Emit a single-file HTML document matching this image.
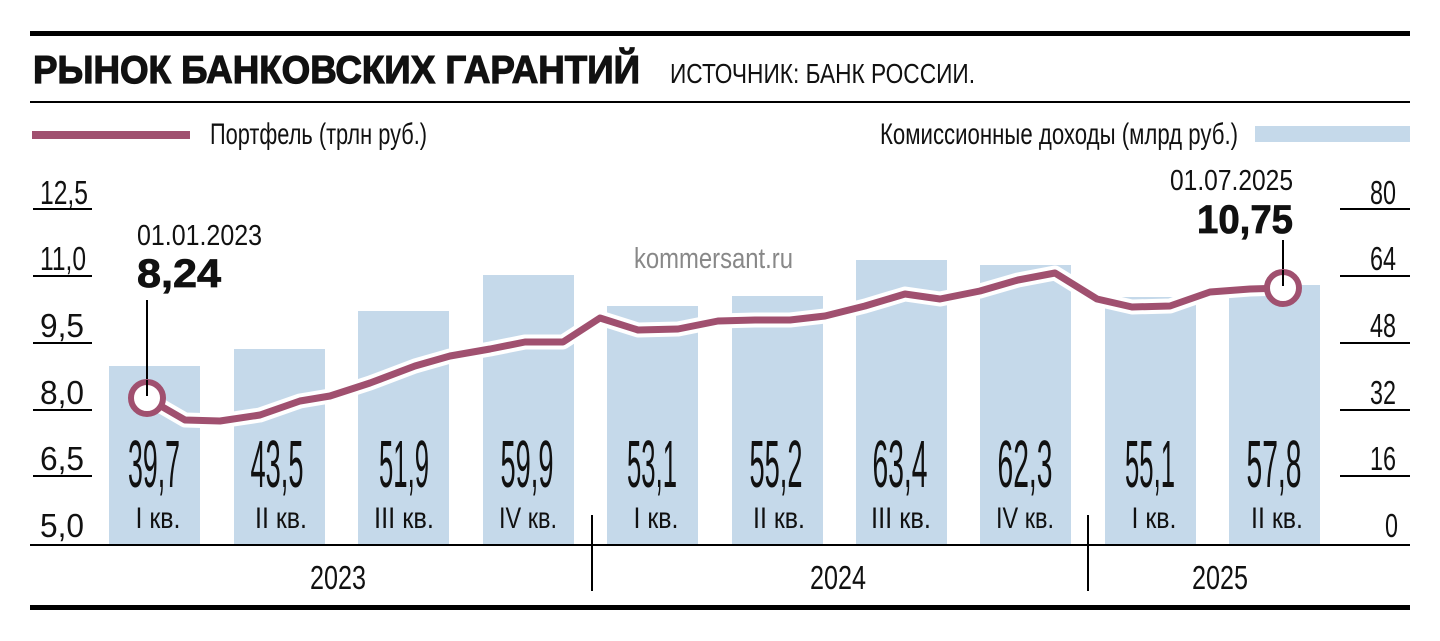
<!DOCTYPE html>
<html><head><meta charset="utf-8"><style>
html,body{margin:0;padding:0;background:#fff;}
svg{display:block}
text{font-family:"Liberation Sans Narrow","Liberation Sans",sans-serif;fill:#111}
</style></head><body>
<svg width="1440" height="641" viewBox="0 0 1440 641" xmlns="http://www.w3.org/2000/svg">
<rect x="30" y="31" width="1380" height="5" fill="#000"/>
<text x="33" y="83" font-size="39" font-weight="bold" textLength="607" lengthAdjust="spacingAndGlyphs" style="font-family:'Liberation Sans',sans-serif;stroke:#111;stroke-width:1.2">РЫНОК БАНКОВСКИХ ГАРАНТИЙ</text>
<text x="670" y="83" font-size="28" textLength="305" lengthAdjust="spacingAndGlyphs">ИСТОЧНИК: БАНК РОССИИ.</text>
<rect x="30" y="101" width="1380" height="2" fill="#000"/>
<rect x="32" y="131" width="158" height="8" fill="#a0506f"/>
<text x="210" y="144" font-size="30" textLength="217" lengthAdjust="spacingAndGlyphs">Портфель (трлн руб.)</text>
<text x="880" y="144" font-size="30" textLength="358" lengthAdjust="spacingAndGlyphs">Комиссионные доходы (млрд руб.)</text>
<rect x="1255" y="126" width="155" height="16" fill="#c5d9ea"/>

<g fill="#c5d9ea">
<rect x="109" y="366" width="91" height="179"/>
<rect x="234" y="349" width="91" height="196"/>
<rect x="358" y="311" width="91" height="234"/>
<rect x="483" y="275" width="91" height="270"/>
<rect x="607" y="306" width="91" height="239"/>
<rect x="732" y="296" width="91" height="249"/>
<rect x="856" y="260" width="91" height="285"/>
<rect x="980" y="265" width="91" height="280"/>
<rect x="1105" y="297" width="91" height="248"/>
<rect x="1229" y="285" width="91" height="260"/>
</g>

<g font-size="33">
<text x="40" y="204" textLength="48" lengthAdjust="spacingAndGlyphs">12,5</text>
<text x="40" y="270" textLength="46" lengthAdjust="spacingAndGlyphs">11,0</text>
<text x="40" y="337" textLength="44" lengthAdjust="spacingAndGlyphs">9,5</text>
<text x="40" y="404" textLength="44" lengthAdjust="spacingAndGlyphs">8,0</text>
<text x="40" y="470" textLength="44" lengthAdjust="spacingAndGlyphs">6,5</text>
<text x="40" y="537" textLength="44" lengthAdjust="spacingAndGlyphs">5,0</text>
<text x="1370" y="204" textLength="26" lengthAdjust="spacingAndGlyphs">80</text>
<text x="1370" y="270" textLength="26" lengthAdjust="spacingAndGlyphs">64</text>
<text x="1370" y="337" textLength="26" lengthAdjust="spacingAndGlyphs">48</text>
<text x="1370" y="404" textLength="26" lengthAdjust="spacingAndGlyphs">32</text>
<text x="1370" y="470" textLength="26" lengthAdjust="spacingAndGlyphs">16</text>
<text x="1385" y="537" textLength="13" lengthAdjust="spacingAndGlyphs">0</text>
</g>
<g fill="#000">
<rect x="33" y="208" width="59" height="2"/><rect x="33" y="275" width="59" height="2"/><rect x="33" y="342" width="59" height="2"/><rect x="33" y="409" width="59" height="2"/><rect x="33" y="475" width="59" height="2"/>
<rect x="1340" y="208" width="70" height="2"/><rect x="1340" y="275" width="70" height="2"/><rect x="1340" y="342" width="70" height="2"/><rect x="1340" y="409" width="70" height="2"/><rect x="1340" y="475" width="70" height="2"/>
</g>

<text x="634" y="268" font-size="29" textLength="159" lengthAdjust="spacingAndGlyphs" style="fill:#888">kommersant.ru</text>

<polyline fill="none" stroke="#fff" stroke-width="15" stroke-linejoin="round" points="147,398 185,420 220,421 260,415 300,401 330,396 370,383 415,366 450,356 490,349 525,342 563,342 600,318 638,330 678,329 718,321 755,320 790,320 825,316 865,306 905,294 940,299 980,291 1018,280 1055,273 1097,299 1132,307 1170,306 1210,292 1250,289 1283,288"/>
<polyline fill="none" stroke="#a0506f" stroke-width="7" stroke-linejoin="round" points="147,398 185,420 220,421 260,415 300,401 330,396 370,383 415,366 450,356 490,349 525,342 563,342 600,318 638,330 678,329 718,321 755,320 790,320 825,316 865,306 905,294 940,299 980,291 1018,280 1055,273 1097,299 1132,307 1170,306 1210,292 1250,289 1283,288"/>

<rect x="146" y="300" width="2" height="90" fill="#000"/>
<rect x="1282" y="240" width="2" height="40" fill="#000"/>
<circle cx="147" cy="398" r="16" fill="#fff" stroke="#a0506f" stroke-width="6"/>
<circle cx="1283" cy="288" r="16" fill="#fff" stroke="#a0506f" stroke-width="6"/>
<rect x="146" y="380" width="2" height="16" fill="#000"/>
<rect x="1282" y="270" width="2" height="16" fill="#000"/>

<text x="137" y="245" font-size="29" textLength="125" lengthAdjust="spacingAndGlyphs">01.01.2023</text>
<text x="137" y="287" font-size="40" font-weight="bold" textLength="84" lengthAdjust="spacingAndGlyphs" style="font-family:'Liberation Sans',sans-serif;stroke:#111;stroke-width:0.8">8,24</text>
<text x="1170" y="190" font-size="29" textLength="123" lengthAdjust="spacingAndGlyphs">01.07.2025</text>
<text x="1197" y="233" font-size="40" font-weight="bold" textLength="96" lengthAdjust="spacingAndGlyphs" style="font-family:'Liberation Sans',sans-serif;stroke:#111;stroke-width:0.8">10,75</text>

<g font-size="67" text-anchor="middle">
<text x="154" y="487" textLength="52" lengthAdjust="spacingAndGlyphs">39,7</text>
<text x="277" y="487" textLength="53" lengthAdjust="spacingAndGlyphs">43,5</text>
<text x="404" y="487" textLength="50" lengthAdjust="spacingAndGlyphs">51,9</text>
<text x="527" y="487" textLength="53" lengthAdjust="spacingAndGlyphs">59,9</text>
<text x="652" y="487" textLength="50" lengthAdjust="spacingAndGlyphs">53,1</text>
<text x="776" y="487" textLength="53" lengthAdjust="spacingAndGlyphs">55,2</text>
<text x="900" y="487" textLength="55" lengthAdjust="spacingAndGlyphs">63,4</text>
<text x="1025" y="487" textLength="55" lengthAdjust="spacingAndGlyphs">62,3</text>
<text x="1150" y="487" textLength="50" lengthAdjust="spacingAndGlyphs">55,1</text>
<text x="1274" y="487" textLength="55" lengthAdjust="spacingAndGlyphs">57,8</text>
</g>
<g font-size="30" text-anchor="middle">
<text x="158" y="528" textLength="45" lengthAdjust="spacingAndGlyphs">I кв.</text>
<text x="281" y="528" textLength="52" lengthAdjust="spacingAndGlyphs">II кв.</text>
<text x="404" y="528" textLength="60" lengthAdjust="spacingAndGlyphs">III кв.</text>
<text x="528" y="528" textLength="58" lengthAdjust="spacingAndGlyphs">IV кв.</text>
<text x="656" y="528" textLength="45" lengthAdjust="spacingAndGlyphs">I кв.</text>
<text x="779" y="528" textLength="52" lengthAdjust="spacingAndGlyphs">II кв.</text>
<text x="901" y="528" textLength="60" lengthAdjust="spacingAndGlyphs">III кв.</text>
<text x="1025" y="528" textLength="58" lengthAdjust="spacingAndGlyphs">IV кв.</text>
<text x="1154" y="528" textLength="45" lengthAdjust="spacingAndGlyphs">I кв.</text>
<text x="1277" y="528" textLength="52" lengthAdjust="spacingAndGlyphs">II кв.</text>
</g>

<rect x="30" y="544" width="1380" height="2" fill="#000"/>
<rect x="591" y="515" width="2" height="76" fill="#000"/>
<rect x="1087" y="515" width="2" height="76" fill="#000"/>
<g font-size="33" text-anchor="middle">
<text x="338" y="589" textLength="56" lengthAdjust="spacingAndGlyphs">2023</text>
<text x="838" y="589" textLength="56" lengthAdjust="spacingAndGlyphs">2024</text>
<text x="1220" y="589" textLength="56" lengthAdjust="spacingAndGlyphs">2025</text>
</g>
<rect x="30" y="605" width="1380" height="5" fill="#000"/>
</svg>
</body></html>
